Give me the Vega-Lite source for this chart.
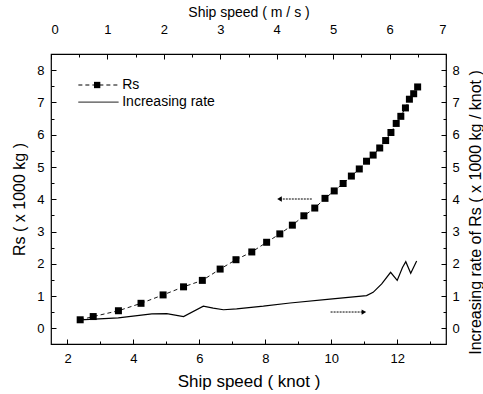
{
  "$schema": "https://vega.github.io/schema/vega-lite/v6.json",
  "width": 395,
  "height": 290,
  "autosize": "none",
  "padding": {"left": 51, "top": 54, "right": 37, "bottom": 50},
  "background": "white",
  "config": {
    "font": "Liberation Sans",
    "view": {"stroke": "#000", "strokeWidth": 1.2},
    "axis": {"domain": false, "grid": false, "tickColor": "#000", "labelColor": "#000", "titleColor": "#000", "labelFontSize": 13, "titleFontWeight": "normal", "tickWidth": 1}
  },
  "datasets": {
    "rs": [
      {"knot": 2.385, "rs": 0.27}, {"knot": 2.78, "rs": 0.37}, {"knot": 3.545, "rs": 0.55},
      {"knot": 4.23, "rs": 0.78}, {"knot": 4.9, "rs": 1.04}, {"knot": 5.52, "rs": 1.29},
      {"knot": 6.09, "rs": 1.49}, {"knot": 6.63, "rs": 1.84}, {"knot": 7.11, "rs": 2.13},
      {"knot": 7.59, "rs": 2.37}, {"knot": 8.04, "rs": 2.67}, {"knot": 8.44, "rs": 2.93},
      {"knot": 8.82, "rs": 3.2}, {"knot": 9.17, "rs": 3.49}, {"knot": 9.5, "rs": 3.73},
      {"knot": 9.81, "rs": 4.03}, {"knot": 10.09, "rs": 4.26}, {"knot": 10.36, "rs": 4.49},
      {"knot": 10.61, "rs": 4.72}, {"knot": 10.85, "rs": 4.94}, {"knot": 11.07, "rs": 5.18},
      {"knot": 11.27, "rs": 5.37}, {"knot": 11.47, "rs": 5.59}, {"knot": 11.65, "rs": 5.82},
      {"knot": 11.81, "rs": 6.07}, {"knot": 11.97, "rs": 6.35}, {"knot": 12.11, "rs": 6.57},
      {"knot": 12.25, "rs": 6.83}, {"knot": 12.37, "rs": 7.1}, {"knot": 12.5, "rs": 7.27},
      {"knot": 12.62, "rs": 7.48}
    ],
    "rate": [
      {"knot": 2.385, "rate": 0.27}, {"knot": 3.54, "rate": 0.33}, {"knot": 4.56, "rate": 0.45},
      {"knot": 5.01, "rate": 0.46}, {"knot": 5.52, "rate": 0.37}, {"knot": 6.12, "rate": 0.69},
      {"knot": 6.42, "rate": 0.63}, {"knot": 6.73, "rate": 0.58}, {"knot": 7.13, "rate": 0.61},
      {"knot": 7.94, "rate": 0.69}, {"knot": 8.75, "rate": 0.79}, {"knot": 9.96, "rate": 0.91},
      {"knot": 11.07, "rate": 1.02}, {"knot": 11.27, "rate": 1.12}, {"knot": 11.53, "rate": 1.38},
      {"knot": 11.8, "rate": 1.74}, {"knot": 12.0, "rate": 1.49}, {"knot": 12.16, "rate": 1.89},
      {"knot": 12.26, "rate": 2.07}, {"knot": 12.41, "rate": 1.71}, {"knot": 12.59, "rate": 2.09}
    ],
    "ms": [{"ms": 0}, {"ms": 7}],
    "arrows": [
      {"from": 9.41, "to": 8.43, "y": 4.01, "dir": "left"},
      {"from": 9.98, "to": 10.99, "y": 0.51, "dir": "right"}
    ],
    "legend": [
      {"x1": 2.33, "x2": 3.55, "xm": 2.9, "xt": 3.66, "y": 7.54, "label": "Rs"},
      {"x1": 2.33, "x2": 3.55, "xm": 2.9, "xt": 3.66, "y": 7.01, "label": "Increasing rate"}
    ]
  },
  "resolve": {"scale": {"x": "independent", "y": "independent"}, "axis": {"x": "independent", "y": "independent"}},
  "layer": [
    {
      "data": {"name": "rs"},
      "mark": {"type": "line", "color": "#000", "strokeWidth": 0.9, "strokeDash": [4, 3]},
      "encoding": {
        "x": {"field": "knot", "type": "quantitative", "scale": {"domain": [1.5, 13.48], "nice": false, "zero": false},
          "axis": {"orient": "bottom", "values": [2, 4, 6, 8, 10, 12], "tickSize": -5, "labelPadding": 13, "title": "Ship speed ( knot )", "titleFontSize": 17, "titlePadding": 8}},
        "y": {"field": "rs", "type": "quantitative", "scale": {"domain": [-0.48, 8.5], "nice": false, "zero": false},
          "axis": {"orient": "left", "values": [0, 1, 2, 3, 4, 5, 6, 7, 8], "tickSize": -5, "labelPadding": 12, "title": "Rs ( x 1000 kg )", "titleFontSize": 16, "titlePadding": 9}}
      }
    },
    {
      "data": {"name": "rs"},
      "mark": {"type": "point", "shape": "square", "filled": true, "color": "#000", "size": 49, "opacity": 1},
      "encoding": {
        "x": {"field": "knot", "type": "quantitative", "scale": {"domain": [1.5, 13.48], "nice": false, "zero": false}, "axis": null},
        "y": {"field": "rs", "type": "quantitative", "scale": {"domain": [-0.48, 8.5], "nice": false, "zero": false}, "axis": null}
      }
    },
    {
      "data": {"name": "rate"},
      "mark": {"type": "line", "color": "#000", "strokeWidth": 1.2},
      "encoding": {
        "x": {"field": "knot", "type": "quantitative", "scale": {"domain": [1.5, 13.48], "nice": false, "zero": false}, "axis": null},
        "y": {"field": "rate", "type": "quantitative", "scale": {"domain": [-0.48, 8.5], "nice": false, "zero": false},
          "axis": {"orient": "right", "values": [0, 1, 2, 3, 4, 5, 6, 7, 8], "tickSize": -5, "labelPadding": 11, "title": "Increasing rate of Rs ( x 1000 kg / knot )", "titleFontSize": 16, "titleAngle": -90, "titleBaseline": "top", "titlePadding": 8, "titleY": 158}}
      }
    },
    {
      "data": {"name": "rate"},
      "mark": {"type": "point", "opacity": 0},
      "encoding": {
        "x": {"field": "knot", "type": "quantitative", "scale": {"domain": [1.5, 13.48], "nice": false, "zero": false},
          "axis": {"orient": "bottom", "values": [3, 5, 7, 9, 11, 13], "tickSize": -3, "labels": false, "title": null}},
        "y": {"field": "rate", "type": "quantitative", "scale": {"domain": [-0.48, 8.5], "nice": false, "zero": false},
          "axis": {"orient": "left", "values": [0.5, 1.5, 2.5, 3.5, 4.5, 5.5, 6.5, 7.5], "tickSize": -3, "labels": false, "title": null}}
      }
    },
    {
      "data": {"name": "rate"},
      "mark": {"type": "point", "opacity": 0},
      "encoding": {
        "x": {"field": "knot", "type": "quantitative", "scale": {"domain": [1.5, 13.48], "nice": false, "zero": false}, "axis": null},
        "y": {"field": "rate", "type": "quantitative", "scale": {"domain": [-0.48, 8.5], "nice": false, "zero": false},
          "axis": {"orient": "right", "values": [0.5, 1.5, 2.5, 3.5, 4.5, 5.5, 6.5, 7.5], "tickSize": -3, "labels": false, "title": null}}
      }
    },
    {
      "data": {"name": "ms"},
      "mark": {"type": "point", "opacity": 0},
      "encoding": {
        "x": {"field": "ms", "type": "quantitative", "scale": {"domain": [0, 7], "nice": false, "zero": false},
          "axis": {"orient": "top", "values": [0, 1, 2, 3, 4, 5, 6, 7], "tickSize": -5, "labelPadding": 23, "title": "Ship speed ( m / s )", "titleFontSize": 14, "titleBaseline": "middle", "titleY": -42}}
      }
    },
    {
      "data": {"name": "ms"},
      "mark": {"type": "point", "opacity": 0},
      "encoding": {
        "x": {"field": "ms", "type": "quantitative", "scale": {"domain": [0, 7], "nice": false, "zero": false},
          "axis": {"orient": "top", "values": [0.5, 1.5, 2.5, 3.5, 4.5, 5.5, 6.5], "tickSize": -3, "labels": false, "title": null}}
      }
    },
    {
      "data": {"name": "arrows"},
      "mark": {"type": "rule", "color": "#000", "strokeWidth": 1, "strokeDash": [2, 1]},
      "encoding": {
        "x": {"field": "from", "type": "quantitative", "scale": {"domain": [1.5, 13.48], "nice": false, "zero": false}, "axis": null},
        "x2": {"field": "to"},
        "y": {"field": "y", "type": "quantitative", "scale": {"domain": [-0.48, 8.5], "nice": false, "zero": false}, "axis": null}
      }
    },
    {
      "data": {"name": "arrows"},
      "mark": {"type": "point", "filled": true, "color": "#000", "size": 28, "opacity": 1},
      "encoding": {
        "x": {"field": "to", "type": "quantitative", "scale": {"domain": [1.5, 13.48], "nice": false, "zero": false}, "axis": null},
        "y": {"field": "y", "type": "quantitative", "scale": {"domain": [-0.48, 8.5], "nice": false, "zero": false}, "axis": null},
        "shape": {"field": "dir", "type": "nominal", "scale": {"domain": ["left", "right"], "range": ["triangle-left", "triangle-right"]}, "legend": null}
      }
    },
    {
      "data": {"name": "legend"},
      "mark": {"type": "rule", "color": "#000", "strokeWidth": 1},
      "encoding": {
        "x": {"field": "x1", "type": "quantitative", "scale": {"domain": [1.5, 13.48], "nice": false, "zero": false}, "axis": null},
        "x2": {"field": "x2"},
        "y": {"field": "y", "type": "quantitative", "scale": {"domain": [-0.48, 8.5], "nice": false, "zero": false}, "axis": null},
        "strokeDash": {"field": "label", "type": "nominal", "scale": {"domain": ["Rs", "Increasing rate"], "range": [[4, 3], [1, 0]]}, "legend": null}
      }
    },
    {
      "data": {"name": "legend"},
      "transform": [{"filter": "datum.label === 'Rs'"}],
      "mark": {"type": "point", "shape": "square", "filled": true, "color": "#000", "size": 40, "opacity": 1},
      "encoding": {
        "x": {"field": "xm", "type": "quantitative", "scale": {"domain": [1.5, 13.48], "nice": false, "zero": false}, "axis": null},
        "y": {"field": "y", "type": "quantitative", "scale": {"domain": [-0.48, 8.5], "nice": false, "zero": false}, "axis": null}
      }
    },
    {
      "data": {"name": "legend"},
      "mark": {"type": "text", "align": "left", "baseline": "middle", "fontSize": 14, "color": "#000", "dx": 0},
      "encoding": {
        "x": {"field": "xt", "type": "quantitative", "scale": {"domain": [1.5, 13.48], "nice": false, "zero": false}, "axis": null},
        "y": {"field": "y", "type": "quantitative", "scale": {"domain": [-0.48, 8.5], "nice": false, "zero": false}, "axis": null},
        "text": {"field": "label"}
      }
    }
  ]
}
